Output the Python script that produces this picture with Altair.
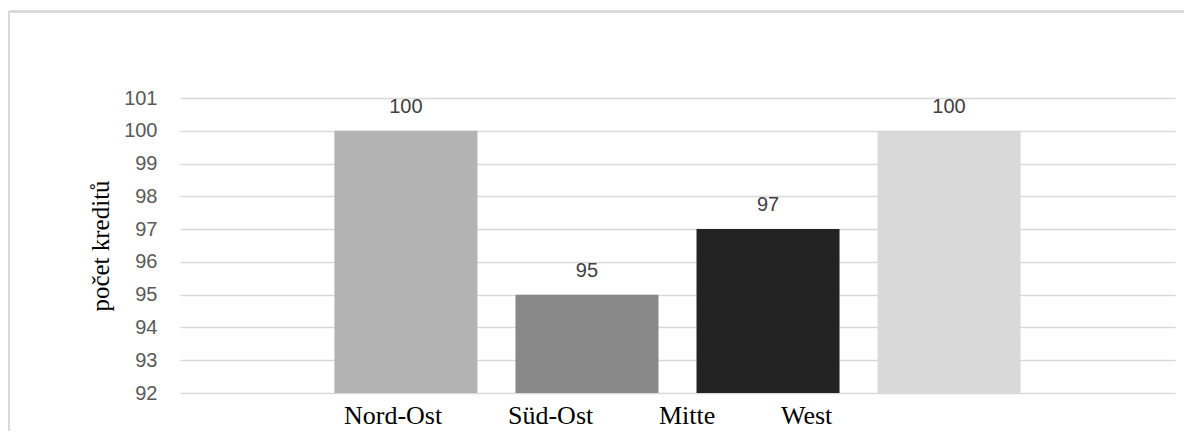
import altair as alt
import pandas as pd

regions = ["Nord-Ost", "Süd-Ost", "Mitte", "West"]
credits = [100, 95, 97, 100]
colors = ["#B3B3B3", "#898989", "#232323", "#D9D9D9"]
y_ticks = [92, 93, 94, 95, 96, 97, 98, 99, 100, 101]

df = pd.DataFrame({"region": regions, "value": credits})

x_enc = alt.X("region:N", sort=None, axis=None,
              scale=alt.Scale(paddingInner=0.21, paddingOuter=0.853))
y_scale = alt.Scale(domain=[92, 101], zero=False, nice=False)
y_axis = alt.Axis(values=y_ticks, title="počet kreditů",
                  titleFont="Liberation Serif", titleFontSize=25,
                  titleFontWeight="normal", titleColor="#000000",
                  titlePadding=10,
                  labelFont="Liberation Sans", labelFontSize=20,
                  labelColor="#595959", labelPadding=23,
                  labelOverlap=False,
                  ticks=False, domain=False,
                  gridColor="#D9D9D9", gridWidth=1.5)

bars = alt.Chart(df).mark_bar().encode(
    x=x_enc,
    y=alt.Y("value:Q", scale=y_scale, axis=y_axis),
    y2=alt.Y2(datum=92),
    color=alt.Color("region:N", sort=None,
                    scale=alt.Scale(domain=regions, range=colors),
                    legend=alt.Legend(title=None, orient="none",
                                      legendX=138, legendY=305,
                                      direction="horizontal",
                                      gridAlign="each",
                                      columnPadding=39,
                                      symbolSize=0, symbolOpacity=0,
                                      symbolStrokeWidth=0, labelOffset=0,
                                      labelFont="Liberation Serif",
                                      labelFontSize=26, labelColor="#000000",
                                      labelLimit=300)),
)

labels = alt.Chart(df).mark_text(
    font="Liberation Sans", fontSize=20, color="#404040",
    baseline="alphabetic", dy=-18
).encode(
    x=x_enc,
    y=alt.Y("value:Q", scale=y_scale, axis=y_axis),
    text=alt.Text("value:Q"),
)

frame_top = alt.Chart(df).mark_rule(color="#D9D9D9", strokeWidth=2).encode(
    x=alt.value(-171), x2=alt.value(1010), y=alt.value(-86.5))
frame_left = alt.Chart(df).mark_rule(color="#D9D9D9", strokeWidth=2).encode(
    x=alt.value(-171), y=alt.value(-86.5), y2=alt.value(335))

chart = alt.layer(frame_top, frame_left, bars, labels).properties(
    width=995, height=295,
    autosize=alt.AutoSizeParams(type="none"),
    padding={"left": 172, "top": 90, "right": 9, "bottom": 38},
    background="#FFFFFF",
).configure_view(stroke=None)

chart.save("out.html", embed_options={"renderer": "svg", "actions": False})
